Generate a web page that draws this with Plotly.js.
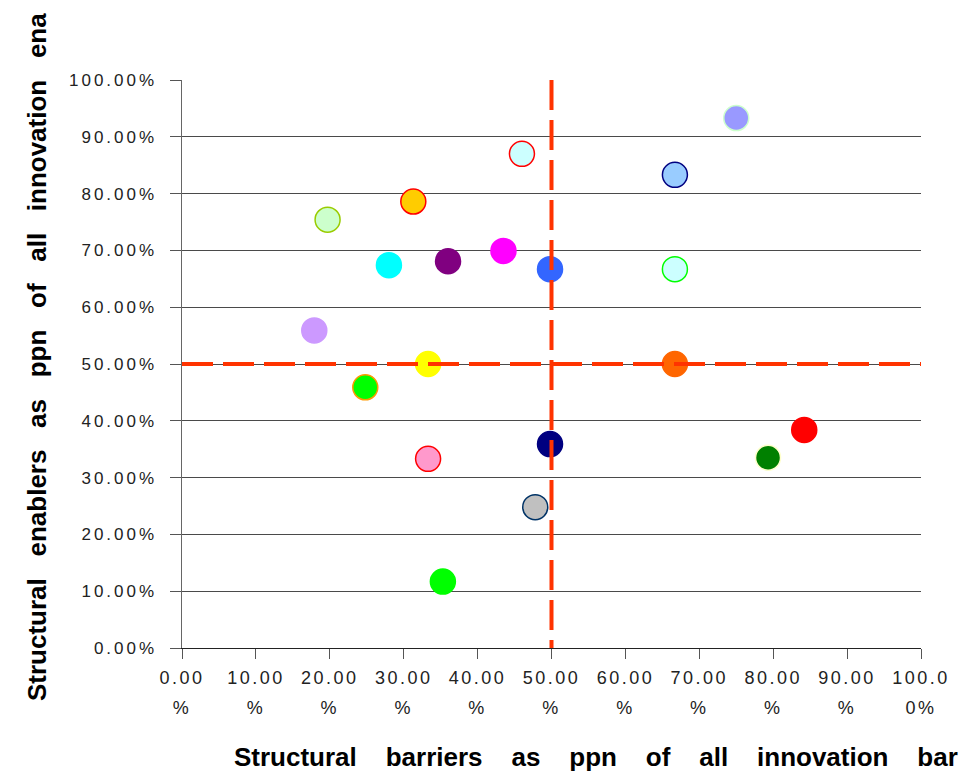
<!DOCTYPE html>
<html>
<head>
<meta charset="utf-8">
<script src="https://cdn.plot.ly/plotly-3.0.1.min.js"></script>
<style>
  html, body { margin: 0; padding: 0; background: #fff; }
  #chart { width: 960px; height: 771px; }
  /* spaced-out tick numerals */
  .xtick text, .x2tick text { letter-spacing: 2.5px; }
  .ytick text { letter-spacing: 3px; }
</style>
</head>
<body>
<div id="chart"></div>
<script>
// Share of structural barriers (x) and structural enablers (y) per innovation case
var barrierShare = [0.750, 0.667, 0.460, 0.313, 0.197, 0.280, 0.360, 0.435, 0.498, 0.667,
                    0.179, 0.333, 0.248, 0.498, 0.333, 0.478, 0.353, 0.667, 0.842, 0.793];
var enablerShare = [0.933, 0.833, 0.870, 0.786, 0.754, 0.674, 0.681, 0.699, 0.667, 0.667,
                    0.559, 0.500, 0.459, 0.359, 0.333, 0.248, 0.117, 0.500, 0.384, 0.335];

// one colour per case: fill and rim
var fillColors = ['#9999FF', '#99CCFF', '#CCFFFF', '#FFCC00', '#CCFFCC', '#00FFFF', '#800080', '#FF00FF', '#3366FF', '#CCFFFF',
                  '#CC99FF', '#FFFF00', '#00FF00', '#000080', '#FF99CC', '#C0C0C0', '#00FF00', '#FF6600', '#FF0000', '#008000'];
var rimColors  = ['#CCFFCC', '#000080', '#FF0000', '#FF0000', '#99CC00', '#00FFFF', '#800080', '#FF00FF', '#3366FF', '#00FF00',
                  '#CC99FF', '#FFFF00', '#FF9900', '#000080', '#FF0000', '#003366', '#00FF00', '#FF6600', '#FF0000', '#FFFFCC'];

// 50 % thresholds splitting the plane into quadrants
var thresholdX = [0, 1];
var barrierThreshold = 0.5;
var enablerThreshold = 0.5;

// tick values and labels
var xTickVals   = [0, 0.1, 0.2, 0.3, 0.4, 0.5, 0.6, 0.7, 0.8, 0.9, 1.0];
var xTickTop    = ['0.00', '10.00', '20.00', '30.00', '40.00', '50.00', '60.00', '70.00', '80.00', '90.00', '100.0'];
var xTickBottom = ['%', '%', '%', '%', '%', '%', '%', '%', '%', '%', '0%'];
var yTickVals   = [0, 0.1, 0.2, 0.3, 0.4, 0.5, 0.6, 0.7, 0.8, 0.9, 1.0];
var yTickText   = ['0.00%', '10.00%', '20.00%', '30.00%', '40.00%', '50.00%', '60.00%', '70.00%', '80.00%', '90.00%', '100.00%'];

var xTitle = 'Structural barriers as ppn of all innovation bar';
var yTitle = 'Structural enablers as ppn of all innovation ena';

// plot box in pixels
var W = 960, H = 771;
var M = {l: 182, r: 39, t: 80, b: 123};
var plotW = W - M.l - M.r, plotH = H - M.t - M.b;
function paperX(px) { return (px - M.l) / plotW; }
function paperY(py) { return (H - M.b - py) / plotH; }

// wide word gaps in the axis titles
function spaced(s, n) { return s.split(' ').join(new Array(n + 1).join('\u00a0')); }

var dashColor = '#FF3300';

var points = {
  type: 'scatter',
  mode: 'markers',
  x: barrierShare,
  y: enablerShare,
  marker: {
    size: 25,
    color: fillColors,
    opacity: 1,
    line: {color: rimColors, width: 1.5}
  },
  hoverinfo: 'x+y',
  showlegend: false
};

// horizontal 50 % enabler line, drawn on the second (lower-label) x axis
var enablerLine = {
  type: 'scatter',
  mode: 'lines',
  xaxis: 'x2',
  yaxis: 'y',
  x: thresholdX,
  y: [enablerThreshold, enablerThreshold],
  line: {color: dashColor, width: 4, dash: '31px,10px'},
  hoverinfo: 'skip',
  showlegend: false,
  cliponaxis: false
};

var tickFont = {family: 'Liberation Sans, Arial, sans-serif', size: 18, color: '#222'};

var layout = {
  width: W,
  height: H,
  margin: M,
  paper_bgcolor: '#ffffff',
  plot_bgcolor: '#ffffff',
  showlegend: false,
  xaxis: {
    range: [0, 1],
    tickmode: 'array',
    tickvals: xTickVals,
    ticktext: xTickTop,
    tickfont: tickFont,
    ticks: 'outside',
    ticklen: 10,
    tickwidth: 1,
    tickcolor: '#555',
    ticklabelstandoff: 3,
    showgrid: false,
    zeroline: false,
    showline: true,
    linecolor: '#222',
    linewidth: 1,
    fixedrange: true
  },
  xaxis2: {
    overlaying: 'x',
    anchor: 'y',
    side: 'bottom',
    range: [0, 1],
    tickmode: 'array',
    tickvals: xTickVals,
    ticktext: xTickBottom,
    tickfont: tickFont,
    ticks: '',
    ticklabelstandoff: 47,
    showgrid: false,
    zeroline: false,
    showline: false,
    fixedrange: true
  },
  yaxis: {
    range: [0, 1],
    tickmode: 'array',
    tickvals: yTickVals,
    ticktext: yTickText,
    tickfont: {family: 'Liberation Sans, Arial, sans-serif', size: 17, color: '#222'},
    ticks: 'outside',
    ticklen: 11,
    tickwidth: 1,
    tickcolor: '#555',
    ticklabelstandoff: 9,
    showgrid: true,
    gridcolor: '#4a4a4a',
    gridwidth: 1,
    zeroline: false,
    showline: true,
    linecolor: '#666',
    linewidth: 1.5,
    fixedrange: true
  },
  shapes: [
    // vertical 50 % barrier line
    {type: 'line', xref: 'x', yref: 'y', x0: barrierThreshold, x1: barrierThreshold, y0: 1, y1: 0,
     line: {color: dashColor, width: 4, dash: '30px,10px'}, layer: 'above'}
  ],
  annotations: [
    {text: spaced(xTitle, 4), xref: 'paper', yref: 'paper',
     x: paperX(232), y: paperY(757), xanchor: 'left', yanchor: 'middle', showarrow: false,
     font: {family: 'Liberation Sans, Arial, sans-serif', size: 26, color: '#000', weight: 'bold'}},
    {text: spaced(yTitle, 3), xref: 'paper', yref: 'paper', textangle: -90,
     x: paperX(37), y: paperY(703), xanchor: 'center', yanchor: 'bottom', showarrow: false,
     font: {family: 'Liberation Sans, Arial, sans-serif', size: 26, color: '#000', weight: 'bold'}}
  ]
};

Plotly.newPlot('chart', [points, enablerLine], layout, {displayModeBar: false, staticPlot: true});
</script>
</body>
</html>
